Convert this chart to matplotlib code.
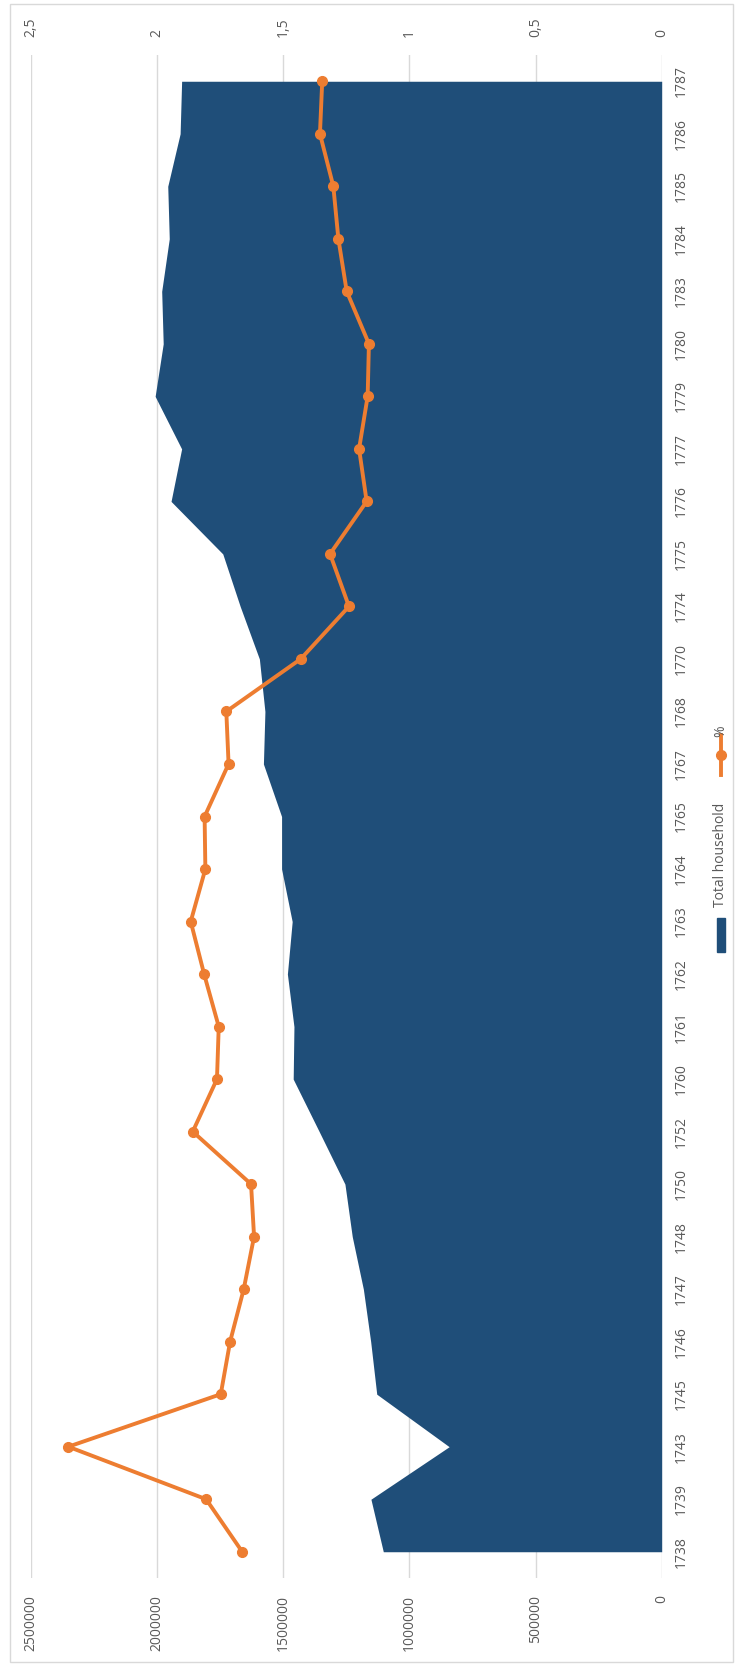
import matplotlib.pyplot as plt
from matplotlib.patches import Rectangle
from matplotlib.lines import Line2D
import numpy as np

plt.rcParams['font.family'] = ['Open Sans', 'DejaVu Sans']

years = ['1738', '1739', '1743', '1745', '1746', '1747', '1748', '1750', '1752', '1760',
         '1761', '1762', '1763', '1764', '1765', '1767', '1768', '1770', '1774', '1775',
         '1776', '1777', '1779', '1780', '1783', '1784', '1785', '1786', '1787']
households = [1103000, 1152000, 842000, 1129000, 1153000, 1182000, 1226000, 1255000, 1357000, 1460000,
              1457000, 1483000, 1464000, 1506000, 1506000, 1578000, 1572000, 1594000, 1670000, 1739000,
              1944000, 1902000, 2007000, 1975000, 1981000, 1951000, 1957000, 1908000, 1902000]
pct = [1.662, 1.805, 2.351, 1.747, 1.710, 1.656, 1.615, 1.627, 1.858, 1.762,
       1.755, 1.813, 1.866, 1.808, 1.811, 1.716, 1.725, 1.430, 1.239, 1.314,
       1.169, 1.199, 1.165, 1.160, 1.248, 1.281, 1.301, 1.354, 1.345]
primary_ticks = [0, 500000, 1000000, 1500000, 2000000, 2500000]
secondary_ticks = [0, 0.5, 1, 1.5, 2, 2.5]
secondary_labels = ['0', '0,5', '1', '1,5', '2', '2,5']

W, H = 740, 1664
blue = '#1F4E79'
orange = '#ED7D31'
gray = '#595959'

fig = plt.figure(figsize=(W / 100, H / 100), dpi=100)
# chart is drawn turned a quarter turn: categories run bottom->top
ax = fig.add_axes([30.7 / W, 86 / H, 631 / W, 1523 / H])
idx = np.arange(len(years))

ax.fill_betweenx(idx, 0, households, color=blue, lw=0)
ax.set_xlim(2500000, 0)
ax.set_ylim(-0.5, len(years) - 0.5)
ax.set_xticks(primary_ticks)
ax.set_xticklabels([str(t) for t in primary_ticks], rotation=90, color=gray, fontsize=10)
ax.set_yticks(idx)
ax.set_yticklabels(years, rotation=90, va='center', color=gray, fontsize=10)
ax.yaxis.tick_right()
ax.tick_params(axis='x', length=0, pad=12)
ax.tick_params(axis='y', length=0, pad=9)
ax.set_axisbelow(True)
ax.grid(axis='x', color='#D9D9D9', lw=1)
for s in ax.spines.values():
    s.set_visible(False)

ax2 = ax.twiny()
ax2.plot(pct, idx, color=orange, lw=2.8, marker='o', ms=7, solid_capstyle='round')
ax2.set_xlim(2.5, 0)
ax2.set_xticks(secondary_ticks)
ax2.set_xticklabels(secondary_labels, rotation=90, color=gray, fontsize=10)
ax2.tick_params(axis='x', length=0, pad=13)
for s in ax2.spines.values():
    s.set_visible(False)

# legend, turned like the rest of the chart
def fx(px):
    return px / W

def fy(py):
    return 1 - py / H

fig.text(fx(721), fy(737), '%', rotation=90, ha='center', va='bottom', color=gray, fontsize=10)
fig.lines.append(Line2D([fx(721), fx(721)], [fy(735), fy(775)], color=orange, lw=2.8,
                        transform=fig.transFigure))
fig.lines.append(Line2D([fx(721)], [fy(755)], color=orange, marker='o', ms=7,
                        transform=fig.transFigure))
fig.text(fx(721), fy(907), 'Total household', rotation=90, ha='center', va='bottom',
         color=gray, fontsize=10)
fig.patches.append(Rectangle((fx(717), fy(952)), 8 / W, 34 / H, color=blue,
                             transform=fig.transFigure))

# chart border
fig.patches.append(Rectangle((fx(10), fy(1662)), 723 / W, 1658 / H, fill=False,
                             edgecolor='#D9D9D9', lw=1, transform=fig.transFigure))

plt.savefig('out.png', dpi=100)
